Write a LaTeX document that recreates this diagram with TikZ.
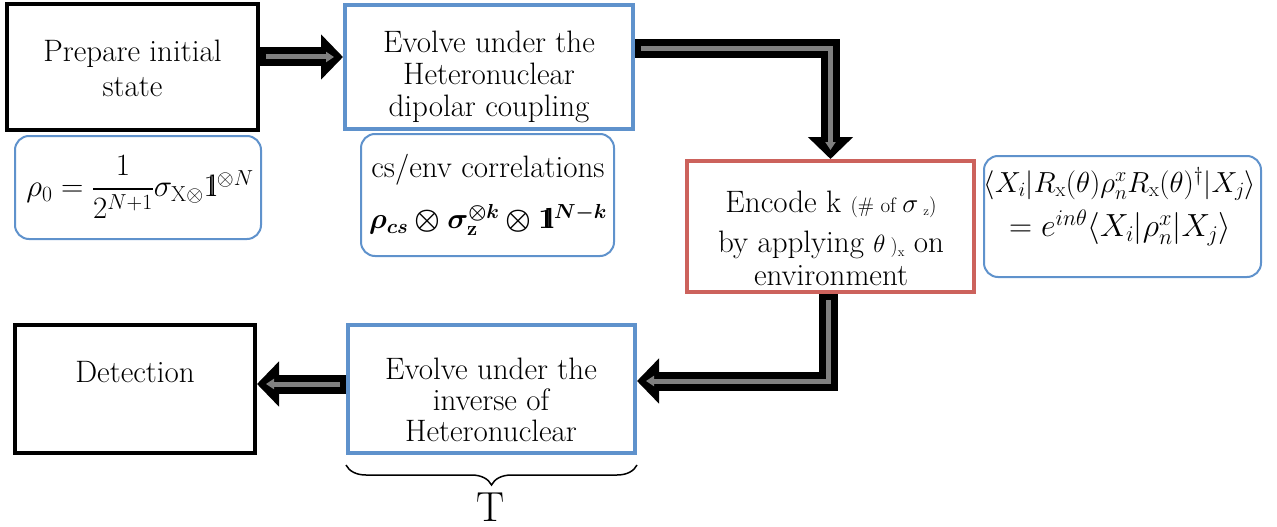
\RequirePackage{fix-cm}
\documentclass[tikz,border=0pt]{standalone}
\usepackage{amsmath,amssymb,bm}
\usetikzlibrary{arrows.meta,decorations.pathreplacing,calc}
\definecolor{boxblue}{RGB}{95,146,204}
\definecolor{boxred}{RGB}{204,98,92}
\definecolor{coregray}{RGB}{128,128,128}
\newcommand{\idone}{\mathrm{1}\mkern-5mu\mathrm{l}}
\newcommand{\bidone}{\mathbf{1}\mkern-6mu\mathbf{l}}
\begin{document}
\begin{tikzpicture}[x=1pt,y=-1pt,
  every node/.style={font=\fontsize{31}{32}\selectfont, inner sep=0pt, align=center},
  blackbox/.style={draw=black, line width=4pt, fill=white},
  bluebox/.style={draw=boxblue, line width=4pt, fill=white},
  redbox/.style={draw=boxred, line width=4pt, fill=white},
  formbox/.style={draw=boxblue, line width=2pt, fill=white, rounded corners=14pt},
  fatarrow/.style={line width=19pt, black, line join=miter, -{Triangle[length=22pt,width=44pt]}},
  fatcore/.style={line width=5pt, coregray, line join=miter, shorten <=6pt, shorten >=9pt, -{Triangle[length=8pt,width=10pt]}},
  txt/.style={}]
\useasboundingbox (0,0) rectangle (1277,527);

% boxes
\node[blackbox, minimum width=251pt, minimum height=126pt] (A) at (132.5,67) {};
\node[txt, font=\fontsize{31}{35}\selectfont] (At) at (132.5,68) {Prepare initial\\state};

\node[bluebox, minimum width=288pt, minimum height=124pt] (B) at (489,67) {};
\node[txt] (Bt) at (489,77) {Evolve under the\\Heteronuclear\\dipolar coupling};

\node[formbox, minimum width=246pt, minimum height=103pt] (F1) at (138,187.5) {};
\node[txt] (F1t) at (140,187) {\fontsize{31}{34}\selectfont$\rho_0=\dfrac{1}{2^{N+1}}\sigma_{\mathrm{X}\otimes}\idone^{\otimes N}$};

\node[formbox, minimum width=253pt, minimum height=122pt] (F2) at (487.5,195) {};
\node[txt] (F2a) at (488,170) {cs/env correlations};
\node[txt] (F2b) at (488,220) {\fontsize{29}{32}\selectfont$\bm{\rho}_{\bm{cs}}\bm{\otimes}\bm{\sigma}_{\mathbf{z}}^{\bm{\otimes}\bm{k}}\bm{\otimes}\bidone^{\bm{N}\bm{-}\bm{k}}$};

\node[redbox, minimum width=287pt, minimum height=131pt] (C) at (830.5,226.5) {};
\node[txt, anchor=base] (Ct1) at (831,212) {Encode k {\fontsize{21}{22}\selectfont (\# of }{\fontsize{27}{28}\selectfont$\sigma$}\,\raisebox{-3pt}{\fontsize{13}{14}\selectfont z}{\fontsize{21}{22}\selectfont)}};
\node[txt, anchor=base] (Ct2) at (831,252) {by applying {\fontsize{25}{26}\selectfont$\theta$}\,{\fontsize{20}{22}\selectfont)}\raisebox{-4pt}{\fontsize{13}{14}\selectfont x} on};
\node[txt, anchor=base] (Ct3) at (831,285) {environment};

\node[formbox, minimum width=277pt, minimum height=121pt] (F4) at (1122.5,216.5) {};
\node[txt] (F4t) at (1120,207) {{\fontsize{29}{32}\selectfont$\langle X_i|R_{\mathrm{x}}(\theta)\rho_n^x R_{\mathrm{x}}(\theta)^\dagger|X_j\rangle$}\\[8pt]
  {\fontsize{32}{34}\selectfont$=e^{in\theta}\langle X_i|\rho_n^x|X_j\rangle$}};

\node[blackbox, minimum width=240pt, minimum height=128pt] (D) at (135,389) {};
\node[txt] (Dt) at (135,372) {Detection};

\node[bluebox, minimum width=287pt, minimum height=128pt] (E) at (491.5,389) {};
\node[txt, font=\fontsize{31}{31}\selectfont] (Et) at (491,400) {Evolve under the\\inverse of\\Heteronuclear};

% brace and T
\draw[decorate, decoration={brace, mirror, amplitude=20pt}, line width=1.5pt]
  ([yshift=-10pt]E.south west) -- ([yshift=-10pt]E.south east);
\node[font=\fontsize{42}{44}\selectfont] (T) at (491,507) {T};

% arrows
\draw[fatarrow] ([yshift=10pt]A.east) -- ([yshift=10pt]B.west);
\draw[fatcore]  ([yshift=10pt]A.east) -- ([yshift=10pt]B.west);

\draw[fatarrow] ([yshift=18pt]B.east) -| (C.north);
\draw[fatcore]  ([yshift=18pt]B.east) -| (C.north);

\draw[fatarrow] ([xshift=-2pt]C.south) |- ([yshift=8pt]E.east);
\draw[fatcore]  ([xshift=-2pt]C.south) |- ([yshift=8pt]E.east);

\draw[fatarrow] ([yshift=5pt]E.west) -- ([yshift=5pt]D.east);
\draw[fatcore]  ([yshift=5pt]E.west) -- ([yshift=5pt]D.east);
\end{tikzpicture}
\end{document}
